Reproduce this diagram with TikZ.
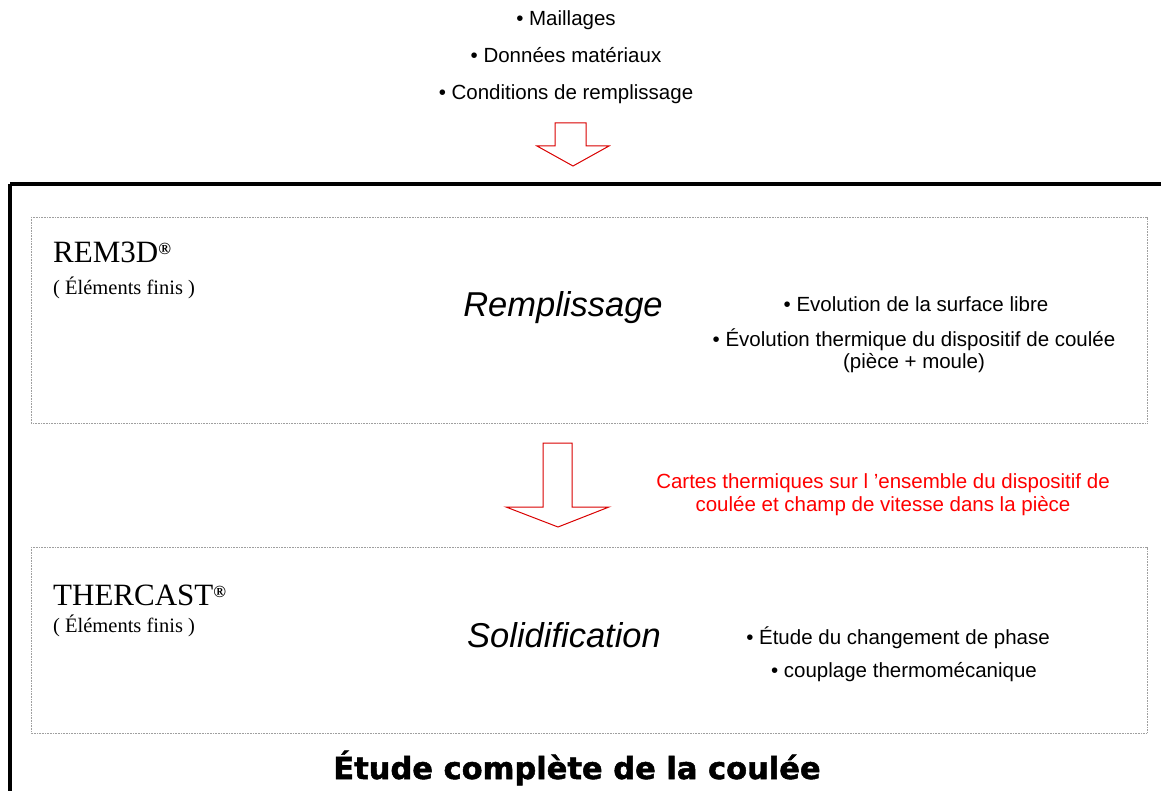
\documentclass[tikz,border=0pt]{standalone}
\usepackage{fontspec}
\setmainfont{Liberation Sans}
\newfontfamily\romanfont{Liberation Serif}
\newfontfamily\heavyfont[BoldFeatures={FakeBold=1.6}]{DejaVu Sans}
\usetikzlibrary{positioning}

\begin{document}
\begin{tikzpicture}[x=1pt, y=-1pt]
\useasboundingbox (0,0) rectangle (1161,791);
\tikzset{every node/.style={inner sep=0pt, anchor=base}}
\tikzset{item/.style={font=\fontsize{20.5}{22}\selectfont, align=center}}
\tikzset{stage/.style={font=\fontsize{34.5}{36}\selectfont\itshape}}
\tikzset{soft/.style={anchor=base west, font=\romanfont\fontsize{31}{32}\selectfont}}
\tikzset{method/.style={anchor=base west, font=\romanfont\fontsize{20.5}{22}\selectfont}}

% donnees d'entree
\node[item] (mesh) at (566,26) {• Maillages};
\node[item] (mat) at (566,63) {• Données matériaux};
\node[item] (fill) at (566,100) {• Conditions de remplissage};

% cadre general
\draw[line width=3.5pt] (10,184) -- (1175,184);
\draw[line width=3.5pt] (10,184) -- (10,800);

\tikzset{stagebox/.style={draw=gray!75, line width=0.8pt, dash pattern=on 0.8pt off 0.8pt}}
\draw[stagebox] (31,217) rectangle (1147,423);
\draw[stagebox] (31,547) rectangle (1147,733);

% remplissage
\node[soft] (rem) at (53,263) {REM3D{\fontsize{17}{17}\selectfont\raisebox{8pt}{\bfseries ®}}};
\node[method] (remef) at (53,295) {( Éléments finis )};
\node[stage] (remp) at (563,317) {Remplissage};
\node[item] (surf) at (916,312) {• Evolution de la surface libre};
\node[item, anchor=north] (therm) at (914,329) {• Évolution thermique du dispositif de coulée\\(pièce + moule)};

% transfert
\node[item, text=red] (cartes) at (883,488) {Cartes thermiques sur l ’ensemble du dispositif de};
\node[item, text=red] (champ) at (883,511) {coulée et champ de vitesse dans la pièce};

% solidification
\node[soft] (therc) at (53,605) {THERCAST{\fontsize{17}{17}\selectfont\raisebox{8pt}{\bfseries ®}}};
\node[method] (thercef) at (53,632) {( Éléments finis )};
\node[stage] (solid) at (564,647) {Solidification};
\node[item] (phase) at (898,644) {• Étude du changement de phase};
\node[item] (coupl) at (904,677) {• couplage thermomécanique};

\node[font=\heavyfont\bfseries\fontsize{30.5}{32}\selectfont] (titre) at (577,779) {Étude complète de la coulée};

\tikzset{blockarrow/.style={draw=red!85!black, line width=1pt, line join=miter, fill=white}}
\draw[blockarrow] (555,123) -- (586,123) -- (586,146) -- (609,146) -- (573,166)
  -- (537,146) -- (555,146) -- cycle;
\draw[blockarrow] (543,443) -- (572,443) -- (572,507) -- (609,507) -- (558,527)
  -- (506,507) -- (543,507) -- cycle;
\end{tikzpicture}
\end{document}
